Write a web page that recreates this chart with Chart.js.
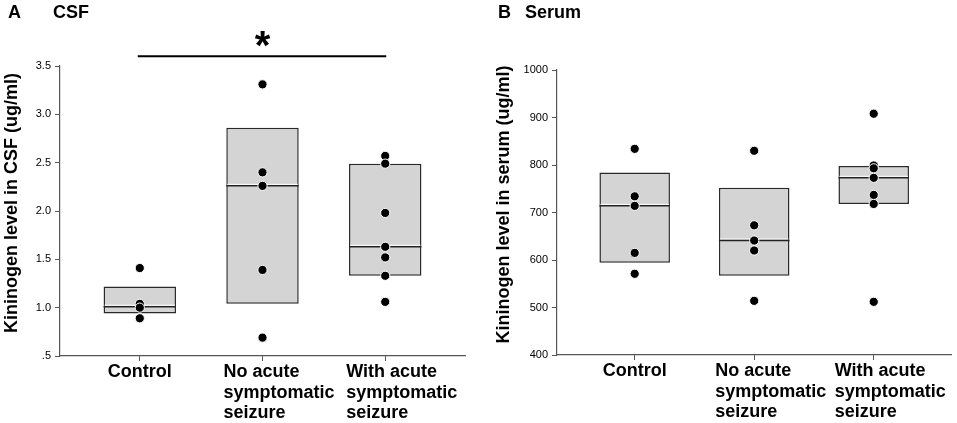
<!DOCTYPE html>
<html>
<head>
<meta charset="utf-8">
<script src="https://cdn.jsdelivr.net/npm/chart.js@4.4.1/dist/chart.umd.min.js"></script>
<style>
html, body { margin: 0; padding: 0; background: #ffffff; }
#wrap { position: relative; width: 957px; height: 423px; overflow: hidden; }
.panel { position: absolute; top: 0; height: 423px; }
#pa { left: 0; width: 478px; }
#pb { left: 478px; width: 479px; }
</style>
</head>
<body>
<div id="wrap">
  <div class="panel" id="pa"><canvas id="ca"></canvas></div>
  <div class="panel" id="pb"><canvas id="cb"></canvas></div>
</div>
<script>
// ---------- data ----------
const categories = ['Control', 'No acute symptomatic seizure', 'With acute symptomatic seizure'];
const categoryLabelLines = [['Control'], ['No acute', 'symptomatic', 'seizure'], ['With acute', 'symptomatic', 'seizure']];

// Panel A: CSF (ug/ml)
const csfControl = [1.41, 1.04, 1.00, 0.89];
const csfNoAcute = [3.31, 2.40, 2.26, 1.39, 0.69];
const csfWithAcute = [2.57, 2.49, 1.98, 1.63, 1.52, 1.33, 1.06];
const csfQ1 = [0.94, 1.04, 1.33];
const csfMedian = [1.01, 2.26, 1.63];
const csfQ3 = [1.22, 2.86, 2.49];
const csfTickLabels = ['.5', '1.0', '1.5', '2.0', '2.5', '3.0', '3.5'];
const csfSignificance = { from: 0, to: 2, value: 3.6, mark: '*' };

// Panel B: Serum (ug/ml)
const serumControl = [834, 734, 714, 615, 571];
const serumNoAcute = [830, 673, 641, 620, 514];
const serumWithAcute = [908, 799, 793, 773, 737, 718, 512];
const serumQ1 = [594, 567, 718];
const serumMedian = [714, 641, 773];
const serumQ3 = [784, 752, 798];
const serumTickLabels = ['400', '500', '600', '700', '800', '900', '1000'];

// ---------- drawing ----------
const FONT = '"Liberation Sans", Arial, Helvetica, sans-serif';
Chart.defaults.font.family = FONT;
Chart.defaults.color = '#000000';

function makePlugin(p) {
  return {
    id: 'panelDecor',
    afterDatasetDraw(chart, args) {
      if (args.meta.type !== 'bar') return;
      const ctx = chart.ctx, ys = chart.scales.y;
      args.meta.data.forEach((bar, i) => {
        const half = bar.width / 2;
        const py = ys.getPixelForValue(p.median[i]);
        ctx.save();
        ctx.strokeStyle = '#ffffff';
        ctx.lineWidth = 1;
        ctx.beginPath();
        ctx.moveTo(bar.x - half + 1, py - 1.5);
        ctx.lineTo(bar.x + half - 1, py - 1.5);
        ctx.stroke();
        ctx.strokeStyle = '#222222';
        ctx.lineWidth = 1.5;
        ctx.beginPath();
        ctx.moveTo(bar.x - half, py);
        ctx.lineTo(bar.x + half, py);
        ctx.stroke();
        ctx.restore();
      });
    },
    afterDraw(chart) {
      const ctx = chart.ctx, xs = chart.scales.x, ys = chart.scales.y, area = chart.chartArea;
      ctx.save();
      ctx.fillStyle = '#000000';
      // heading
      ctx.font = 'bold 18px ' + FONT;
      ctx.textAlign = 'left';
      ctx.textBaseline = 'alphabetic';
      ctx.fillText(p.letter, p.letterX, 18);
      ctx.fillText(p.title, p.titleX, 18);
      // y title
      ctx.save();
      ctx.translate(p.yTitleX, (area.top + area.bottom) / 2 - 8);
      ctx.rotate(-Math.PI / 2);
      ctx.textAlign = 'center';
      ctx.textBaseline = 'middle';
      ctx.fillText(p.yTitle, 0, 0);
      ctx.restore();
      // x category labels
      categoryLabelLines.forEach((lines, i) => {
        const px = xs.getPixelForValue(i);
        lines.forEach((ln, k) => {
          const y = area.bottom + 21 + k * 20.5;
          if (lines.length === 1) {
            ctx.textAlign = 'center';
            ctx.fillText(ln, px, y);
          } else {
            ctx.textAlign = 'left';
            ctx.fillText(ln, px - 39, y);
          }
        });
      });
      // significance bracket
      if (p.sig) {
        const x1 = xs.getPixelForValue(p.sig.from);
        const x2 = xs.getPixelForValue(p.sig.to);
        const y = ys.getPixelForValue(p.sig.value);
        ctx.strokeStyle = '#000000';
        ctx.lineWidth = 2;
        ctx.beginPath();
        ctx.moveTo(x1 - 2, y);
        ctx.lineTo(x2 + 1, y);
        ctx.stroke();
        ctx.font = 'bold 40px ' + FONT;
        ctx.textAlign = 'center';
        ctx.textBaseline = 'alphabetic';
        ctx.fillText(p.sig.mark, (x1 + x2) / 2, y + 3);
      }
      ctx.restore();
    }
  };
}

function makePanel(canvasId, p) {
  const groups = p.groups;
  const points = [];
  groups.forEach((vals, i) => vals.forEach(v => points.push({ x: i, y: v })));
  const boxes = categories.map((c, i) => ({ x: i, y: [p.q1[i], p.q3[i]] }));
  return new Chart(document.getElementById(canvasId), {
    type: 'bar',
    data: {
      datasets: [
        {
          type: 'scatter',
          data: points,
          order: 0,
          pointRadius: 4.6,
          pointHoverRadius: 4.6,
          backgroundColor: '#000000',
          borderColor: '#ffffff',
          borderWidth: 1,
          showLine: false,
          clip: false
        },
        {
          type: 'bar',
          data: boxes,
          order: 1,
          backgroundColor: '#d4d4d4',
          borderColor: '#2a2a2a',
          borderWidth: 1.5,
          borderSkipped: false,
          categoryPercentage: 1,
          barPercentage: 0.59
        }
      ]
    },
    options: {
      responsive: true,
      maintainAspectRatio: false,
      animation: false,
      events: [],
      layout: { padding: { top: p.top, right: p.right, left: 0, bottom: 0 } },
      plugins: { legend: { display: false }, tooltip: { enabled: false } },
      scales: {
        x: {
          type: 'linear',
          min: -0.65,
          max: 2.65,
          offset: false,
          afterBuildTicks: s => { s.ticks = categories.map((c, i) => ({ value: i })); },
          afterFit: s => { s.height = p.xHeight; },
          ticks: { display: false },
          grid: { display: true, offset: false, drawOnChartArea: false, drawTicks: true, tickLength: 5, color: '#555555', lineWidth: 1 },
          border: { display: true, color: '#555555', width: 1.2 }
        },
        y: {
          type: 'linear',
          min: p.yMin,
          max: p.yMax,
          afterFit: s => { s.width = p.yWidth; },
          ticks: {
            stepSize: p.yStep,
            padding: 4,
            font: { size: 11 },
            color: '#000000',
            callback: (v, i) => p.tickLabels[i]
          },
          grid: { display: true, drawOnChartArea: false, drawTicks: true, tickLength: 5, color: '#555555', lineWidth: 1 },
          border: { display: true, color: '#555555', width: 1.2 }
        }
      }
    },
    plugins: [makePlugin(p)]
  });
}

makePanel('ca', {
  letter: 'A', letterX: 8, title: 'CSF', titleX: 53,
  yTitle: 'Kininogen level in CSF (ug/ml)', yTitleX: 12,
  groups: [csfControl, csfNoAcute, csfWithAcute],
  q1: csfQ1, median: csfMedian, q3: csfQ3,
  yMin: 0.5, yMax: 3.5, yStep: 0.5, tickLabels: csfTickLabels,
  sig: csfSignificance,
  top: 66, right: 13, yWidth: 60, xHeight: 67
});

makePanel('cb', {
  letter: 'B', letterX: 20, title: 'Serum', titleX: 47,
  yTitle: 'Kininogen level in serum (ug/ml)', yTitleX: 26,
  groups: [serumControl, serumNoAcute, serumWithAcute],
  q1: serumQ1, median: serumMedian, q3: serumQ3,
  yMin: 400, yMax: 1000, yStep: 100, tickLabels: serumTickLabels,
  sig: null,
  top: 70, right: 4, yWidth: 79, xHeight: 68
});
</script>
</body>
</html>
